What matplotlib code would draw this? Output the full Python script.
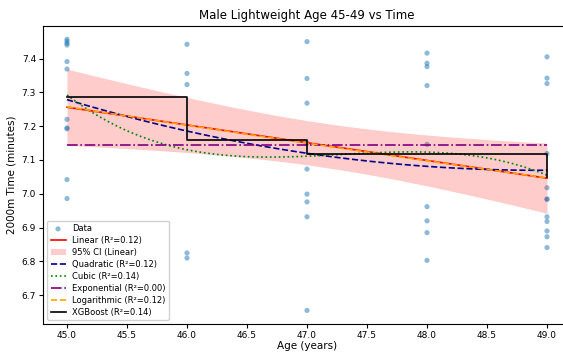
import numpy as np
import matplotlib
matplotlib.use("Agg")
import matplotlib.pyplot as plt

# data (one point per rower, grouped by age)
ages_45 = [7.457, 7.451, 7.445, 7.440, 7.391, 7.369, 7.220, 7.195, 7.192, 7.042, 6.986]
ages_46 = [7.442, 7.356, 7.323, 6.825, 6.810]
ages_47 = [7.450, 7.341, 7.268, 7.150, 7.073, 6.999, 6.976, 6.932, 6.655]
ages_48 = [7.416, 7.386, 7.376, 7.320, 7.146, 6.962, 6.920, 6.885, 6.803]
ages_49 = [7.405, 7.342, 7.326, 7.119, 7.018, 6.984, 6.984, 6.932, 6.918, 6.890, 6.873, 6.841]

age_levels = [45, 46, 47, 48, 49]
xgb_pred = [7.285, 7.160, 7.118, 7.118, 7.050]

r2_labels = {"Linear": 0.12, "Quadratic": 0.12, "Cubic": 0.14,
             "Exponential": 0.00, "Logarithmic": 0.12, "XGBoost": 0.14}

groups = [ages_45, ages_46, ages_47, ages_48, ages_49]
x = np.concatenate([np.full(len(g), a, dtype=float) for a, g in zip(age_levels, groups)])
y = np.concatenate([np.array(g) for g in groups])

xs = np.linspace(min(age_levels), max(age_levels), 100)

# fits
lin = np.polyfit(x, y, 1)
quad = np.polyfit(x, y, 2)
cub = np.polyfit(x, y, 3)
logc = np.polyfit(np.log(x), y, 1)
y_lin = np.polyval(lin, xs)

# 95% CI of the linear fit
n = len(x)
resid = y - np.polyval(lin, x)
s = np.sqrt(np.sum(resid**2) / (n - 2))
sxx = np.sum((x - x.mean())**2)
se = s * np.sqrt(1/n + (xs - x.mean())**2 / sxx)
t = 2.017
ci_lo = y_lin - t*se
ci_hi = y_lin + t*se

fig = plt.figure(figsize=(5.63, 3.52), dpi=100)
ax = fig.add_axes([43/563, 1 - 324/352, (571 - 43)/563, (324 - 25.7)/352])

ax.scatter(x, y, s=14, color='#1f77b4', alpha=0.5, edgecolors='none', label='Data')
ax.plot(xs, y_lin, color='red', lw=1.2, label=f'Linear (R²={r2_labels["Linear"]:.2f})')
ax.fill_between(xs, ci_lo, ci_hi, color='red', alpha=0.2, lw=0, label='95% CI (Linear)')
ax.plot(xs, np.polyval(quad, xs), color='darkblue', ls='--', lw=1.2,
        label=f'Quadratic (R²={r2_labels["Quadratic"]:.2f})')
ax.plot(xs, np.polyval(cub, xs), color='green', ls=':', lw=1.2,
        label=f'Cubic (R²={r2_labels["Cubic"]:.2f})')
ax.plot(xs, np.full_like(xs, y.mean()), color='purple', ls='-.', lw=1.2,
        label=f'Exponential (R²={r2_labels["Exponential"]:.2f})')
ax.plot(xs, np.polyval(logc, np.log(xs)), color='orange', ls='--', lw=1.2,
        label=f'Logarithmic (R²={r2_labels["Logarithmic"]:.2f})')
ax.step(age_levels, xgb_pred, where='post', color='black', lw=1.2,
        label=f'XGBoost (R²={r2_labels["XGBoost"]:.2f})')

ax.set_title('Male Lightweight Age 45-49 vs Time', fontsize=8.5, pad=5)
ax.set_xlabel('Age (years)', fontsize=7.5, labelpad=1)
ax.set_ylabel('2000m Time (minutes)', fontsize=7.5)
ax.tick_params(labelsize=6.5, length=3, pad=2)
ax.legend(loc='lower left', fontsize=6, framealpha=0.9, handlelength=1.8,
          labelspacing=0.35)

fig.savefig('out.png', dpi=100)
